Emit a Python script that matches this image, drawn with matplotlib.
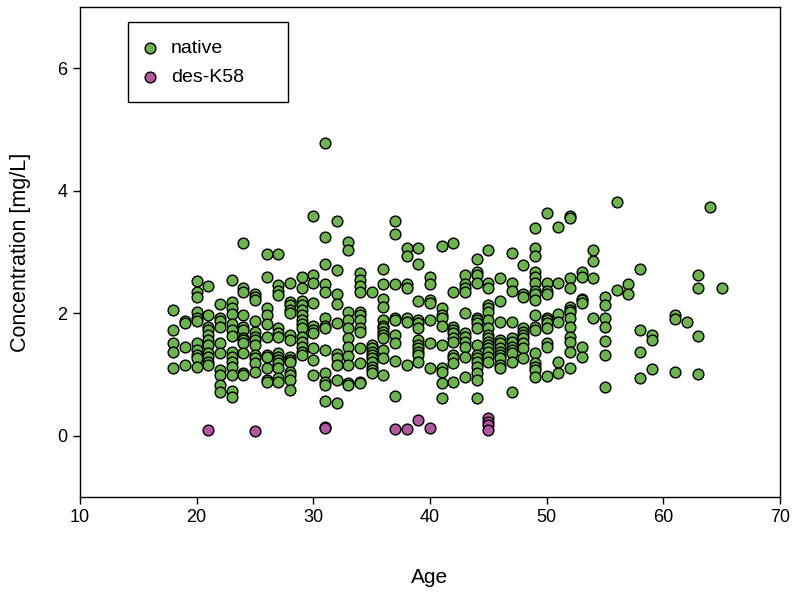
import matplotlib
matplotlib.use("Agg")
import matplotlib.pyplot as plt
from matplotlib.patches import Rectangle

plt.rcParams['font.family'] = ['Liberation Sans', 'DejaVu Sans']

# ---- data: native (per age) ----
native_ages = list(range(18, 66))
native_conc = [
    [2.05, 1.72, 1.51, 1.37, 1.1],                                   # 18
    [1.88, 1.84, 1.45, 1.15],                                        # 19
    [2.52, 2.34, 2.26, 2.02, 1.93, 1.88, 1.51, 1.40, 1.32, 1.27, 1.12],  # 20
    [2.44, 1.97, 1.77, 1.72, 1.64, 1.56, 1.48, 1.35, 1.28, 1.2, 1.15],   # 21
    [2.15, 1.93, 1.88, 1.77, 1.51, 1.35, 1.07, 0.99, 0.83, 0.72],        # 22
    [2.54, 2.18, 2.08, 1.98, 1.82, 1.72, 1.63, 1.37, 1.28, 1.2, 1.12, 0.99, 0.73, 0.63],  # 23
    [3.14, 2.41, 2.34, 1.97, 1.77, 1.72, 1.59, 1.56, 1.51, 1.35, 1.02, 0.99],  # 24
    [2.31, 2.26, 2.21, 1.88, 1.69, 1.61, 1.56, 1.48, 1.32, 1.27, 1.19, 1.04],  # 25
    [2.96, 2.59, 2.08, 1.97, 1.82, 1.61, 1.32, 1.28, 1.11, 0.91, 0.88],        # 26
    [2.96, 2.46, 2.37, 2.29, 1.76, 1.67, 1.61, 1.35, 1.28, 1.24, 1.19, 1.11, 0.94, 0.88],  # 27
    [2.49, 2.18, 2.13, 2.05, 2.0, 1.64, 1.56, 1.28, 1.24, 1.2, 1.04, 0.99, 0.91, 0.75],   # 28
    [2.59, 2.42, 2.2, 2.13, 2.05, 1.97, 1.89, 1.82, 1.76, 1.61, 1.53, 1.45, 1.37, 1.32],  # 29
    [3.59, 2.63, 2.49, 2.16, 1.8, 1.72, 1.67, 1.43, 1.24, 0.99],                # 30
    [4.78, 3.24, 2.8, 2.47, 2.34, 1.93, 1.8, 1.76, 1.4, 1.02, 0.88, 0.83, 0.57],  # 31
    [3.5, 2.7, 2.32, 2.15, 1.84, 1.33, 1.27, 1.15, 0.91, 0.54],                # 32
    [3.17, 3.04, 2.02, 1.89, 1.76, 1.59, 1.45, 1.3, 1.15, 0.86, 0.83],         # 33
    [2.65, 2.55, 2.44, 2.34, 2.02, 1.97, 1.89, 1.76, 1.69, 1.43, 1.19, 0.88, 0.86],  # 34
    [2.34, 1.48, 1.43, 1.37, 1.32, 1.27, 1.2, 1.12, 1.07, 1.02],               # 35
    [2.72, 2.47, 2.24, 2.1, 1.89, 1.8, 1.76, 1.69, 1.64, 1.59, 1.4, 1.27, 0.99],  # 36
    [3.5, 3.3, 2.47, 1.93, 1.89, 1.64, 1.51, 1.22, 0.65],                     # 37
    [3.06, 2.94, 2.47, 2.41, 1.92, 1.85, 1.15],                               # 38
    [3.06, 2.81, 2.2, 1.89, 1.84, 1.76, 1.56, 1.48, 1.43, 1.37, 1.32, 1.2],    # 39
    [2.6, 2.47, 2.21, 2.16, 1.89, 1.51, 1.11],                                # 40
    [3.09, 2.08, 1.97, 1.92, 1.8, 1.48, 1.11, 1.04, 0.86, 0.62],              # 41
    [3.15, 2.34, 1.77, 1.72, 1.67, 1.59, 1.53, 1.32, 1.27, 1.19, 0.88],       # 42
    [2.63, 2.47, 2.41, 2.34, 2.0, 1.67, 1.61, 1.53, 1.45, 1.28, 0.96],        # 43
    [2.88, 2.67, 2.63, 2.49, 1.93, 1.89, 1.84, 1.76, 1.48, 1.32, 1.27, 1.2, 1.12, 1.02, 0.91, 0.62],  # 44
    [3.04, 2.5, 2.42, 2.13, 2.08, 2.02, 1.89, 1.76, 1.64, 1.59, 1.53, 1.48, 1.43, 1.37, 1.28, 1.2],  # 45
    [2.57, 2.2, 1.85, 1.56, 1.51, 1.43, 1.37, 1.32, 1.27, 1.15, 1.11],        # 46
    [2.98, 2.49, 2.37, 1.85, 1.59, 1.53, 1.45, 1.4, 1.35, 1.2, 0.72],         # 47
    [2.78, 2.32, 2.26, 1.76, 1.69, 1.64, 1.59, 1.51, 1.43, 1.27],             # 48
    [3.4, 3.06, 2.93, 2.67, 2.59, 2.49, 2.37, 2.32, 2.21, 1.97, 1.77, 1.72, 1.35, 1.19, 1.12, 1.07, 0.96],  # 49
    [3.64, 2.5, 2.37, 2.32, 1.93, 1.89, 1.84, 1.76, 1.51, 1.45, 0.98],        # 50
    [3.41, 2.5, 1.98, 1.85, 1.2, 1.02],                                       # 51
    [3.59, 3.56, 2.57, 2.41, 2.1, 2.05, 2.02, 1.93, 1.77, 1.61, 1.53, 1.37, 1.11],  # 52
    [2.67, 2.6, 2.24, 2.21, 2.16, 1.45, 1.28],                                # 53
    [3.04, 2.85, 2.57, 1.93],                                                 # 54
    [2.26, 2.13, 1.93, 1.77, 1.54, 1.32, 0.8],                                # 55
    [3.82, 2.38],                                                             # 56
    [2.47, 2.32],                                                             # 57
    [2.73, 1.72, 1.37, 0.94],                                                 # 58
    [1.64, 1.56, 1.09],                                                       # 59
    [],                                                                       # 60
    [1.97, 1.9, 1.04],                                                        # 61
    [1.85],                                                                   # 62
    [2.62, 2.41, 1.63, 1.01],                                                 # 63
    [3.74],                                                                   # 64
    [2.42],                                                                   # 65
]

# ---- data: des-K58 ----
desk58_age = [21, 25, 31, 31, 37, 38, 39, 40, 45, 45, 45, 45]
desk58_conc = [0.10, 0.08, 0.15, 0.13, 0.11, 0.11, 0.25, 0.13, 0.29, 0.23, 0.18, 0.10]

series_labels = ['native', 'des-K58']
x_ticks = [10, 20, 30, 40, 50, 60, 70]
y_ticks = [0, 2, 4, 6]

nat_x, nat_y = [], []
for a, vals in zip(native_ages, native_conc):
    for v in vals:
        nat_x.append(a)
        nat_y.append(v)

W, H = 797, 594
fig = plt.figure(figsize=(W / 100, H / 100), dpi=100)
ax = fig.add_axes([80 / W, 1 - 497 / H, 700 / W, 490 / H])

green = '#6db34f'
purple = '#b2589f'
ax.scatter(nat_x, nat_y, s=60, facecolor=green, edgecolor='black', linewidth=1.0,
           label=series_labels[0], zorder=3)
ax.scatter(desk58_age, desk58_conc, s=60, facecolor=purple, edgecolor='black', linewidth=1.0,
           label=series_labels[1], zorder=3)

ax.set_xlim(10, 70)
ax.set_ylim(-1, 7)
ax.set_xticks(x_ticks)
ax.set_yticks(y_ticks)
ax.tick_params(direction='out', length=5, width=1, labelsize=13, pad=4)
for s in ax.spines.values():
    s.set_linewidth(1.0)
ax.set_xlabel('Age', fontsize=15, labelpad=30)
ax.set_ylabel('Concentration [mg/L]', fontsize=15.5, labelpad=19)

# legend box (frame drawn as rectangle in figure pixels)
fig.patches.append(Rectangle((128 / W, 1 - 102 / H), 160 / W, 80 / H,
                             transform=fig.transFigure, facecolor='white',
                             edgecolor='black', linewidth=1.0, zorder=5))
leg = fig.legend(loc='upper left', bbox_to_anchor=(138 / W, 1 - 39 / H), frameon=False,
                 fontsize=14, borderpad=0, labelspacing=0.62, handletextpad=0.5,
                 borderaxespad=0, handlelength=1.2)
leg.set_zorder(6)

fig.savefig('out.png', dpi=100)
